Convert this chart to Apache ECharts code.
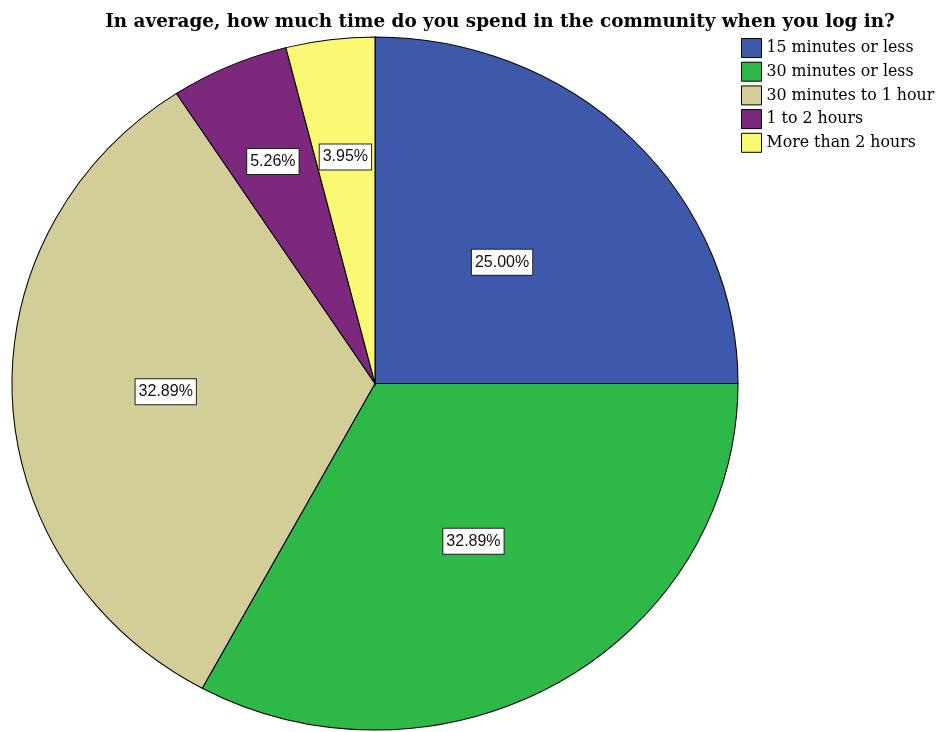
<!DOCTYPE html>
<html>
<head>
<meta charset="utf-8">
<style>
  html, body { margin: 0; padding: 0; background: #fff; }
  #chart { width: 940px; height: 732px; }
</style>
<script src="https://cdn.jsdelivr.net/npm/echarts@6/dist/echarts.min.js"></script>
</head>
<body>
<div id="chart"></div>
<script>
// Answers to the survey question, share of respondents (%)
const categories = [
  '15 minutes or less',
  '30 minutes or less',
  '30 minutes to 1 hour',
  '1 to 2 hours',
  'More than 2 hours'
];
const percentages = [25.00, 32.89, 32.89, 5.26, 3.95];
const sliceColors = ['#3E58AC', '#2EB848', '#D3CE97', '#7C287D', '#FBF873'];

// Pie geometry: slightly wider than tall
const CX = 375, CY = 383.5, RY = 346.5, RX = 363;
// How far out each label sits, as a fraction of the radius
const labelRadius = [0.495, 0.53, 0.577, 0.70, 0.659];

const total = percentages.reduce((a, b) => a + b, 0);
const starts = [];
percentages.reduce((acc, v, i) => { starts[i] = acc; return acc + v; }, 0);

const chart = echarts.init(document.getElementById('chart'));

function renderSlice(params, api) {
  const i = params.dataIndex;
  const v = api.value(0);
  const a0 = starts[i] / total * Math.PI * 2;
  const a1 = (starts[i] + v) / total * Math.PI * 2;
  const mid = (a0 + a1) / 2;
  const f = labelRadius[i];
  const lx = CX + f * RX * Math.sin(mid);
  const ly = CY - f * RY * Math.cos(mid);
  return {
    type: 'group',
    children: [
      {
        type: 'sector',
        shape: {
          cx: CX, cy: CY, r0: 0, r: RY,
          startAngle: a0 - Math.PI / 2,
          endAngle: a1 - Math.PI / 2,
          clockwise: true
        },
        originX: CX, originY: CY,
        scaleX: RX / RY,
        style: {
          fill: sliceColors[i],
          stroke: '#000',
          lineWidth: 1,
          strokeNoScale: true
        }
      },
      {
        type: 'text',
        x: lx, y: ly,
        z2: 10,
        style: {
          text: v.toFixed(2) + '%',
          align: 'center',
          verticalAlign: 'middle',
          fill: '#111',
          font: '16px "Liberation Sans", Arial, sans-serif',
          backgroundColor: '#fff',
          borderColor: '#222',
          borderWidth: 1,
          padding: [5, 3, 4, 3]
        }
      }
    ]
  };
}

chart.setOption({
  animation: false,
  backgroundColor: '#fff',
  title: {
    text: 'In average, how much time do you spend in the community when you log in?',
    left: 495,
    textAlign: 'center',
    top: 8,
    textStyle: {
      fontFamily: '"DejaVu Serif", serif',
      fontWeight: 'bold',
      fontSize: 18.4,
      color: '#000'
    }
  },
  legend: {
    orient: 'vertical',
    left: 741,
    top: 38,
    padding: 0,
    itemWidth: 20,
    itemHeight: 19,
    itemGap: 3.7,
    icon: 'rect',
    data: categories,
    itemStyle: { borderColor: '#000', borderWidth: 1 },
    textStyle: {
      fontFamily: '"DejaVu Serif", serif',
      fontSize: 15.8,
      lineHeight: 19,
      color: '#000'
    }
  },
  series: [
    {
      // Slices drawn as elliptical sectors
      type: 'custom',
      coordinateSystem: 'none',
      renderItem: renderSlice,
      data: percentages.map((v, i) => ({ name: categories[i], value: [v] })),
      silent: true
    },
    {
      // Zero-size pie that feeds the legend its entries and colours
      type: 'pie',
      radius: [0, 0],
      center: [CX, CY],
      silent: true,
      label: { show: false },
      labelLine: { show: false },
      data: categories.map((c, i) => ({
        name: c,
        value: percentages[i],
        itemStyle: { color: sliceColors[i] }
      }))
    }
  ]
});
</script>
</body>
</html>
